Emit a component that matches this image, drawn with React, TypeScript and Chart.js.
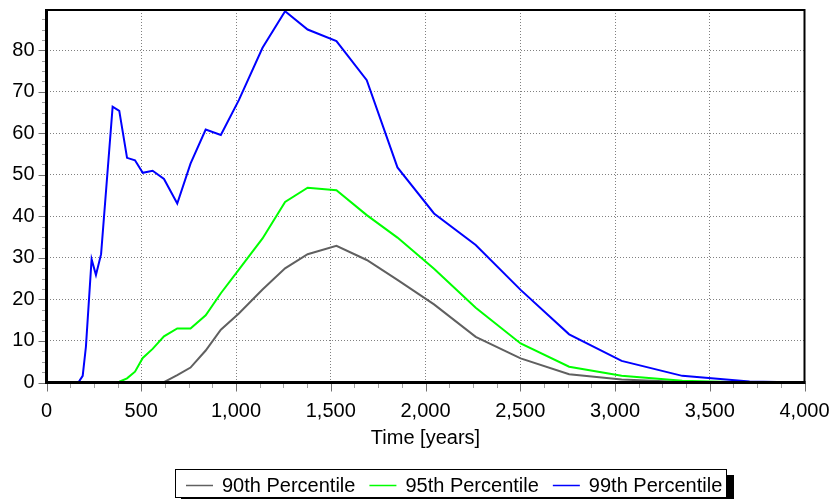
import React, { useEffect, useRef } from 'react';
import { Chart, registerables } from 'chart.js';

Chart.register(...registerables);

// ---- data ----
const timeYears = [0, 168, 191, 208, 238, 261, 288, 349, 384, 425, 467, 508, 560, 620, 690, 760, 840, 920, 1015, 1140, 1259, 1378, 1530, 1690, 1852, 2045, 2265, 2502, 2758, 3035, 3355, 3710, 4000];
const p90 = [0, 0, 0, 0, 0, 0, 0, 0, 0, 0, 0, 0, 0, 0.1, 1.8, 3.6, 7.7, 12.7, 16.6, 22.4, 27.5, 30.9, 32.9, 29.5, 24.7, 18.8, 11.0, 5.8, 2.0, 0.7, 0.1, 0, 0];
const p95 = [0, 0, 0, 0, 0, 0, 0, 0, 0.2, 1.0, 2.6, 5.9, 8.1, 11.1, 13.0, 13.0, 16.2, 21.5, 27.2, 34.7, 43.5, 46.9, 46.3, 40.3, 34.9, 27.4, 18.0, 9.4, 3.8, 1.6, 0.4, 0, 0];
const p99 = [0, 0, 1.6, 8.6, 29.7, 25.9, 30.9, 66.4, 65.4, 54.1, 53.5, 50.5, 51.0, 49.0, 43.1, 52.7, 60.9, 59.6, 68.0, 80.6, 89.4, 85.0, 82.2, 72.8, 51.8, 40.7, 33.1, 22.3, 11.6, 5.2, 1.6, 0.25, 0];

const seriesLabels = ['90th Percentile', '95th Percentile', '99th Percentile'];
const seriesColors = ['#606060', '#00ff00', '#0000ff'];
const xAxisTitle = 'Time [years]';
const xMin = 0;
const xMax = 4000;
const xMajorStep = 500;
const xMinorStep = 125;
const yMin = 0;
const yMax = 89.7;
const yMajorStep = 10;
const yMinorStep = 2.5;

const FONT = '"Liberation Sans", Arial, Helvetica, sans-serif';

const framePlugin = {
  id: 'frame',
  afterDatasetsDraw(chart: any) {
    const { ctx, chartArea, scales } = chart;
    const { left, right, top, bottom } = chartArea;
    const x = scales.x;
    const y = scales.y;
    ctx.save();
    ctx.lineWidth = 1;
    // x tick marks
    for (let v = xMin; v <= xMax + 1e-6; v += xMinorStep) {
      const major = Math.abs(v % xMajorStep) < 1e-6;
      const px = Math.round(x.getPixelForValue(v)) + 0.5;
      ctx.strokeStyle = major ? '#707070' : '#a0a0a0';
      ctx.beginPath();
      ctx.moveTo(px, bottom);
      ctx.lineTo(px, bottom + (major ? 9 : 5.5));
      ctx.stroke();
    }
    // y tick marks
    for (let v = yMin; v <= yMax + 1e-6; v += yMinorStep) {
      const major = Math.abs(v % yMajorStep) < 1e-6;
      const py = Math.round(y.getPixelForValue(v)) + 0.5;
      ctx.strokeStyle = major ? '#707070' : '#a0a0a0';
      ctx.beginPath();
      ctx.moveTo(left, py);
      ctx.lineTo(left - (major ? 8 : 4.5), py);
      ctx.stroke();
    }
    // frame
    ctx.strokeStyle = '#000';
    ctx.lineWidth = 2;
    ctx.beginPath();
    ctx.moveTo(left, top);
    ctx.lineTo(right, top);
    ctx.lineTo(right, bottom);
    ctx.stroke();
    ctx.lineWidth = 3;
    ctx.beginPath();
    ctx.moveTo(left, top - 1);
    ctx.lineTo(left, bottom + 1.5);
    ctx.moveTo(left - 1.5, bottom);
    ctx.lineTo(right + 1, bottom);
    ctx.stroke();
    ctx.restore();
  },
};

const boxLegendPlugin = {
  id: 'boxLegend',
  afterDraw(chart: any) {
    const ctx = chart.ctx;
    const bx = 175.5;
    const by = 469.5;
    const bw = 551;
    const bh = 28;
    ctx.save();
    ctx.fillStyle = '#000';
    ctx.fillRect(bx + bw + 0.5, by + 5.5, 7, bh + 10);
    ctx.fillRect(bx + 5.5, by + bh + 0.5, bw + 2, 7);
    ctx.fillStyle = '#fff';
    ctx.fillRect(bx, by, bw, bh);
    ctx.strokeStyle = '#000';
    ctx.lineWidth = 1;
    ctx.strokeRect(bx, by, bw, bh);
    ctx.font = '20px ' + FONT;
    ctx.textBaseline = 'middle';
    ctx.textAlign = 'left';
    let cx = 186;
    const cy = 485.5;
    chart.data.datasets.forEach((ds: any) => {
      ctx.strokeStyle = ds.borderColor;
      ctx.lineWidth = 1.5;
      ctx.beginPath();
      ctx.moveTo(cx, cy);
      ctx.lineTo(cx + 27, cy);
      ctx.stroke();
      ctx.fillStyle = '#000';
      ctx.fillText(ds.label, cx + 36, cy + 1);
      cx += 36 + ctx.measureText(ds.label).width + 14;
    });
    ctx.restore();
  },
};

export default function App() {
  const canvasRef = useRef<HTMLCanvasElement | null>(null);

  useEffect(() => {
    if (!canvasRef.current) return;
    const seriesValues = [p90, p95, p99];
    const drawOrder = [2, 1, 0];
    const chart = new Chart(canvasRef.current, {
      type: 'line',
      data: {
        datasets: seriesValues.map((vals, i) => ({
          label: seriesLabels[i],
          data: timeYears.map((t, k) => ({ x: t, y: vals[k] })),
          borderColor: seriesColors[i],
          backgroundColor: seriesColors[i],
          borderWidth: 2,
          pointRadius: 0,
          tension: 0,
          fill: false,
          order: drawOrder[i],
        })),
      },
      options: {
        animation: false,
        responsive: false,
        devicePixelRatio: 1,
        font: { family: FONT, size: 20 },
        layout: { padding: { left: 0, right: 27.5, top: 10, bottom: 0 } },
        plugins: {
          legend: { display: false },
          tooltip: { enabled: false },
          title: { display: false },
        },
        scales: {
          x: {
            type: 'linear',
            min: xMin,
            max: xMax,
            afterFit: (scale: any) => {
              scale.height = 116.5;
              scale.paddingLeft = 0;
              scale.paddingRight = 0;
            },
            ticks: {
              stepSize: xMajorStep,
              color: '#000',
              font: { family: FONT, size: 20 },
              padding: 17,
              maxRotation: 0,
              autoSkip: false,
              callback: (v: any) => Number(v).toLocaleString('en-US'),
            },
            grid: {
              drawTicks: false,
              color: (c: any) => (c.tick && (c.tick.value === xMin || c.tick.value === xMax) ? 'rgba(0,0,0,0)' : '#808080'),
              lineWidth: 1,
            },
            border: { display: false, dash: [1, 2] },
            title: {
              display: true,
              text: xAxisTitle,
              color: '#000',
              font: { family: FONT, size: 20 },
              padding: { top: 0, bottom: 49 },
            },
          },
          y: {
            type: 'linear',
            min: yMin,
            max: yMax,
            afterFit: (scale: any) => {
              scale.width = 46.5;
              scale.paddingTop = 0;
              scale.paddingBottom = 0;
            },
            afterBuildTicks: (scale: any) => {
              scale.ticks = scale.ticks.filter((t: any) => Math.abs(t.value % yMajorStep) < 1e-6);
            },
            ticks: {
              stepSize: yMajorStep,
              color: '#000',
              font: { family: FONT, size: 20 },
              padding: 12,
            },
            grid: {
              drawTicks: false,
              color: (c: any) => (c.tick && c.tick.value === yMin ? 'rgba(0,0,0,0)' : '#808080'),
              lineWidth: 1,
            },
            border: { display: false, dash: [1, 2] },
          },
        },
      },
      plugins: [framePlugin, boxLegendPlugin],
    } as any);
    return () => chart.destroy();
  }, []);

  return (
    <div style={{ position: 'absolute', left: 0, top: 0, width: 832, height: 499, background: '#fff' }}>
      <canvas ref={canvasRef} width={832} height={499} style={{ display: 'block' }} />
    </div>
  );
}
